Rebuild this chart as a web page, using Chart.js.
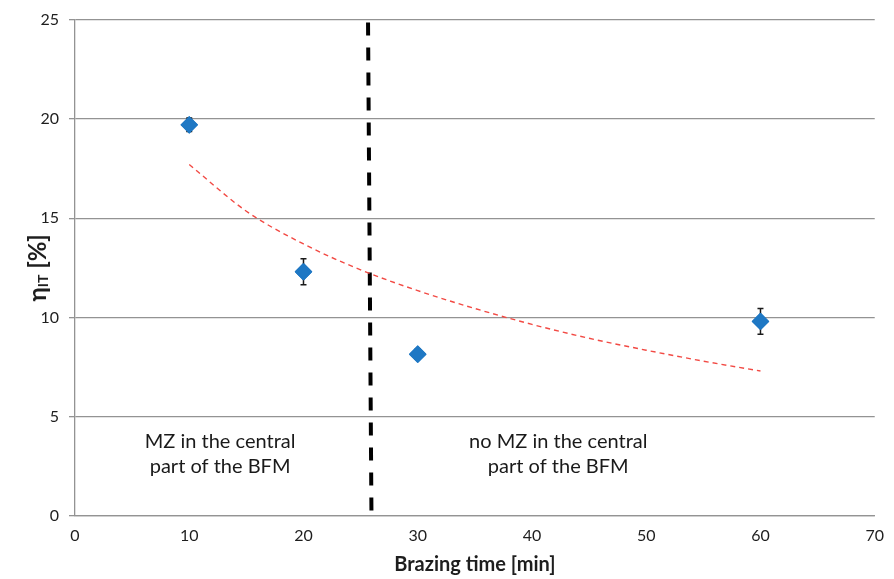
<!DOCTYPE html>
<html>
<head>
<meta charset="utf-8">
<script src="https://cdn.jsdelivr.net/npm/chart.js@4/dist/chart.umd.min.js"></script>
<style>
  html, body { margin: 0; padding: 0; background: #fff; }
  #wrap { width: 894px; height: 579px; }
</style>
</head>
<body>
<div id="wrap"><canvas id="chart" width="894" height="579"></canvas></div>
<script>
// measured points: brazing time [min] vs eta_IT [%] with +/- error
const brazingTimes = [10, 20, 30, 60];
const etaValues = [19.7, 12.3, 8.15, 9.8];
const etaErrors = [0.34, 0.65, 0.25, 0.65];

const trendTimes = [10, 15, 20, 25, 30, 35, 40, 45, 50, 55, 60];
const trendValues = [17.7, 15.35, 13.7, 12.4, 11.35, 10.45, 9.65, 8.95, 8.35, 7.8, 7.3];

// boundary between the two regimes (slightly slanted hand-drawn line)
const dividerTimes = [25.65, 25.95];
const dividerValues = [24.85, 0];

const xTicks = [0, 10, 20, 30, 40, 50, 60, 70];
const yTicks = [0, 5, 10, 15, 20, 25];

const regionLabels = [
  { x: 12.7, y: 3.77, lines: ["MZ in the central", "part of the BFM"] },
  { x: 42.3, y: 3.77, lines: ["no MZ in the central", "part of the BFM"] }
];

const FONT = "Lato, 'Open Sans', 'Liberation Sans', sans-serif";
const gridColor = "#939393";
const textColor = "#1e1e1e";

const toXY = (xs, ys) => xs.map((x, i) => ({ x: x, y: ys[i] }));

// error bars for the measured series
const errorBars = {
  id: "errorBars",
  afterDatasetsDraw(chart) {
    const ctx = chart.ctx;
    const xs = chart.scales.x, ys = chart.scales.y;
    ctx.save();
    ctx.strokeStyle = "#1a1a1a";
    ctx.lineWidth = 1.5;
    brazingTimes.forEach((t, i) => {
      const px = xs.getPixelForValue(t);
      const top = ys.getPixelForValue(etaValues[i] + etaErrors[i]);
      const bot = ys.getPixelForValue(etaValues[i] - etaErrors[i]);
      ctx.beginPath();
      ctx.moveTo(px, top); ctx.lineTo(px, bot);
      ctx.moveTo(px - 3, top); ctx.lineTo(px + 3, top);
      ctx.moveTo(px - 3, bot); ctx.lineTo(px + 3, bot);
      ctx.stroke();
    });
    // redraw markers on top of the bars
    const meta = chart.getDatasetMeta(0);
    ctx.lineJoin = "round";
    meta.data.forEach(el => el.draw(ctx));
    ctx.restore();
  }
};

// region captions and rotated y-axis title with subscript
const captions = {
  id: "captions",
  afterDraw(chart) {
    const ctx = chart.ctx;
    const xs = chart.scales.x, ys = chart.scales.y;
    ctx.save();
    ctx.fillStyle = "#1a1a1a";
    ctx.font = "20px " + FONT;
    ctx.textAlign = "center";
    ctx.textBaseline = "middle";
    regionLabels.forEach(r => {
      const px = xs.getPixelForValue(r.x);
      const py = ys.getPixelForValue(r.y);
      r.lines.forEach((line, k) => ctx.fillText(line, px, py + k * 25));
    });

    // y-axis title: eta_IT [%]
    const cy = (chart.chartArea.top + chart.chartArea.bottom) / 2;
    ctx.translate(38, cy);
    ctx.rotate(-Math.PI / 2);
    ctx.textAlign = "left";
    ctx.textBaseline = "middle";
    const big = "bold 24px " + FONT, small = "bold 14px " + FONT;
    ctx.font = big; const w1 = ctx.measureText("η").width;
    ctx.font = small; const w2 = ctx.measureText("IT").width;
    ctx.font = big; const w3 = ctx.measureText(" [%]").width;
    let x0 = -(w1 + w2 + w3) / 2;
    ctx.fillStyle = textColor;
    ctx.font = big; ctx.fillText("η", x0, 0);
    ctx.font = small; ctx.fillText("IT", x0 + w1, 5);
    ctx.font = big; ctx.fillText(" [%]", x0 + w1 + w2, 0);
    ctx.restore();
  }
};

new Chart(document.getElementById("chart"), {
  type: "scatter",
  data: {
    datasets: [
      {
        label: "measured",
        data: toXY(brazingTimes, etaValues),
        pointStyle: "rectRot",
        pointRadius: 7.5,
        pointHoverRadius: 7.5,
        backgroundColor: "#1f78c4",
        borderColor: "#1f78c4",
        borderWidth: 2,
        order: 0
      },
      {
        label: "trend",
        data: toXY(trendTimes, trendValues),
        showLine: true,
        borderColor: "#f24a44",
        borderWidth: 1.4,
        borderDash: [5, 4],
        cubicInterpolationMode: "monotone",
        pointRadius: 0,
        order: 1
      },
      {
        label: "divider",
        data: toXY(dividerTimes, dividerValues),
        showLine: true,
        borderColor: "#000",
        borderWidth: 4,
        borderDash: [13, 12],
        pointRadius: 0,
        order: 2
      }
    ]
  },
  options: {
    responsive: false,
    animation: false,
    events: [],
    layout: { padding: { left: 0, right: 14, top: 19, bottom: 0 } },
    plugins: { legend: { display: false }, tooltip: { enabled: false } },
    scales: {
      x: {
        type: "linear",
        min: 0, max: 70,
        afterBuildTicks: s => { s.ticks = xTicks.map(v => ({ value: v })); },
        afterFit: s => { s.height = 63; },
        grid: { display: false, drawTicks: false },
        border: { display: true, color: gridColor, width: 1.3 },
        ticks: { padding: 10, color: textColor, font: { family: FONT, size: 16 } },
        title: {
          display: true,
          text: "Brazing time [min]",
          color: textColor,
          padding: { top: 0, bottom: 2 },
          font: { family: FONT, size: 20, weight: "bold" }
        }
      },
      y: {
        type: "linear",
        min: 0, max: 25,
        afterBuildTicks: s => { s.ticks = yTicks.map(v => ({ value: v })); },
        afterFit: s => { s.width = 75; },
        grid: { color: gridColor, lineWidth: 1.3, tickLength: 6 },
        border: { display: true, color: gridColor, width: 1.3 },
        ticks: { padding: 10, color: textColor, font: { family: FONT, size: 16 } }
      }
    }
  },
  plugins: [errorBars, captions]
});
</script>
</body>
</html>
